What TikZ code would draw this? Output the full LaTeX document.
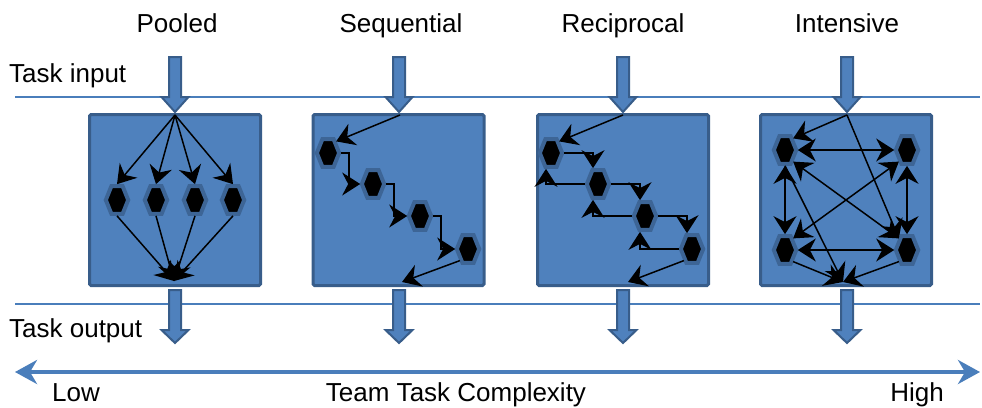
\documentclass[tikz,border=0pt]{standalone}
\usepackage{fontspec}
\setmainfont{Liberation Sans}
\usetikzlibrary{shapes.geometric,arrows.meta}
\definecolor{boxblue}{HTML}{4F81BD}
\definecolor{boxedge}{HTML}{385D8A}
\definecolor{ringblue}{HTML}{3D6596}
\definecolor{lineblue}{HTML}{4A7EBB}
\begin{document}
\begin{tikzpicture}[x=1pt, y=-1pt]
	\tikzstyle{task}   = [rectangle, minimum size=171pt, inner sep=0pt, draw=boxedge, fill=boxblue, line width=3pt, rounded corners=1.5pt]
	\tikzstyle{hexa}   = [regular polygon, regular polygon sides=6, minimum size=32pt, inner sep=0pt, xscale=0.7, fill=black, draw=ringblue, line width=4pt]
	\tikzstyle{flow}   = [line width=1.5pt, -{Stealth[length=18pt, width=23pt, inset=6pt]}]
	\tikzstyle{duplex} = [line width=1.5pt, {Stealth[length=18pt, width=23pt, inset=6pt]}-{Stealth[length=18pt, width=23pt, inset=6pt]}]
	\tikzstyle{block}  = [fill=boxblue, draw=boxedge, line width=2pt, line join=miter]
	\tikzstyle{axis}   = [draw=lineblue, line width=4pt, {Stealth[length=22pt, width=24pt, inset=7pt]}-{Stealth[length=22pt, width=24pt, inset=7pt]}]
	\tikzstyle{txt}    = [font=\fontsize{26pt}{30pt}\selectfont, inner sep=0pt, anchor=base]

	\useasboundingbox (0,0) rectangle (982,407);

	% input / output levels
	\draw[lineblue, line width=1.2pt] (15,97) -- (980,97);
	\draw[lineblue, line width=1.2pt] (15,304) -- (980,304);

	% task boxes
	\foreach \name/\x in {pooled/175, seq/398.5, rec/623, int/846}
		\node[task] (\name) at (\x,200) {};

	% block arrows in and out
	\foreach \c in {175, 399, 623, 847} {
		\draw[block] ({\c-6},57) -- ({\c+6},57) -- ({\c+6},97) -- ({\c+13.5},97) -- (\c,112) -- ({\c-13.5},97) -- ({\c-6},97) -- cycle;
		\draw[block] ({\c-6},290) -- ({\c+6},290) -- ({\c+6},330) -- ({\c+13.5},330) -- (\c,343) -- ({\c-13.5},330) -- ({\c-6},330) -- cycle;
	}

	\foreach \name/\x/\y in {pooledin/175/115, pooledout/174/281, seqin/400/115, seqout/402/282,
		recin/623/115, recout/628/282, intin/847/115, intout/843/282}
		\coordinate (\name) at (\x,\y);

	% team members
	\foreach \name/\x/\y in {p1/117/200, p2/156/200, p3/195/200, p4/233/200,
		s1/328/153, s2/373/184, s3/420/216, s4/468/249,
		r1/551/153, r2/598/184, r3/645/216, r4/692/249,
		i1/785/150, i2/907/150, i3/785/250, i4/907/250}
		\node[hexa] (\name) at (\x,\y) {};

	% pooled
	\foreach \i in {1,...,4} {
		\draw[flow] (pooledin) -- (p\i.north);
		\draw[flow] (p\i.south) -- (pooledout);
	}

	% sequential
	\draw[flow] (seqin) -- (s1.north east);
	\foreach \from/\to in {s1/s2, s2/s3, s3/s4}
		\draw[flow] (\from.east) -- ++(8,0) |- (\to.west);
	\draw[flow] (s4.south west) -- (seqout);

	% reciprocal
	\draw[flow] (recin) -- (r1.north east);
	\foreach \from/\to in {r1/r2, r2/r3, r3/r4} {
		\draw[flow] (\from.east) -| ([xshift=-5pt]\to.north);
		\draw[flow] (\to.west) -| ([xshift=-5pt]\from.south);
	}
	\draw[flow] (r4.south west) -- (recout);

	% intensive
	\draw[flow] (intin) -- (i1.north east);
	\draw[flow] (intin) -- (i4.north west);
	\foreach \from/\to in {i1.east/i2.west, i3.east/i4.west, i1.south/i3.north, i2.south/i4.north,
		i1.south east/i4.north west, i3.north east/i2.south west}
		\draw[duplex] (\from) -- (\to);
	\foreach \from in {i1.south, i3.south east, i4.south west}
		\draw[flow] (\from) -- (intout);

	% complexity axis
	\coordinate (low) at (15,372);
	\coordinate (high) at (980,372);
	\draw[axis] (low) -- (high);

	% texts
	\node[txt] (pooledlbl) at (177,32) {Pooled};
	\node[txt] (seqlbl) at (401,32) {Sequential};
	\node[txt] (reclbl) at (623,32) {Reciprocal};
	\node[txt] (intlbl) at (847,32) {Intensive};
	\node[txt, anchor=base west] (inputlbl) at (9,82) {Task input};
	\node[txt, anchor=base west] (outputlbl) at (9,337) {Task output};
	\node[txt] (lowlbl) at (76,401) {Low};
	\node[txt] (complexlbl) at (456,401) {Team Task Complexity};
	\node[txt] (highlbl) at (917,401) {High};

\end{tikzpicture}
\end{document}
